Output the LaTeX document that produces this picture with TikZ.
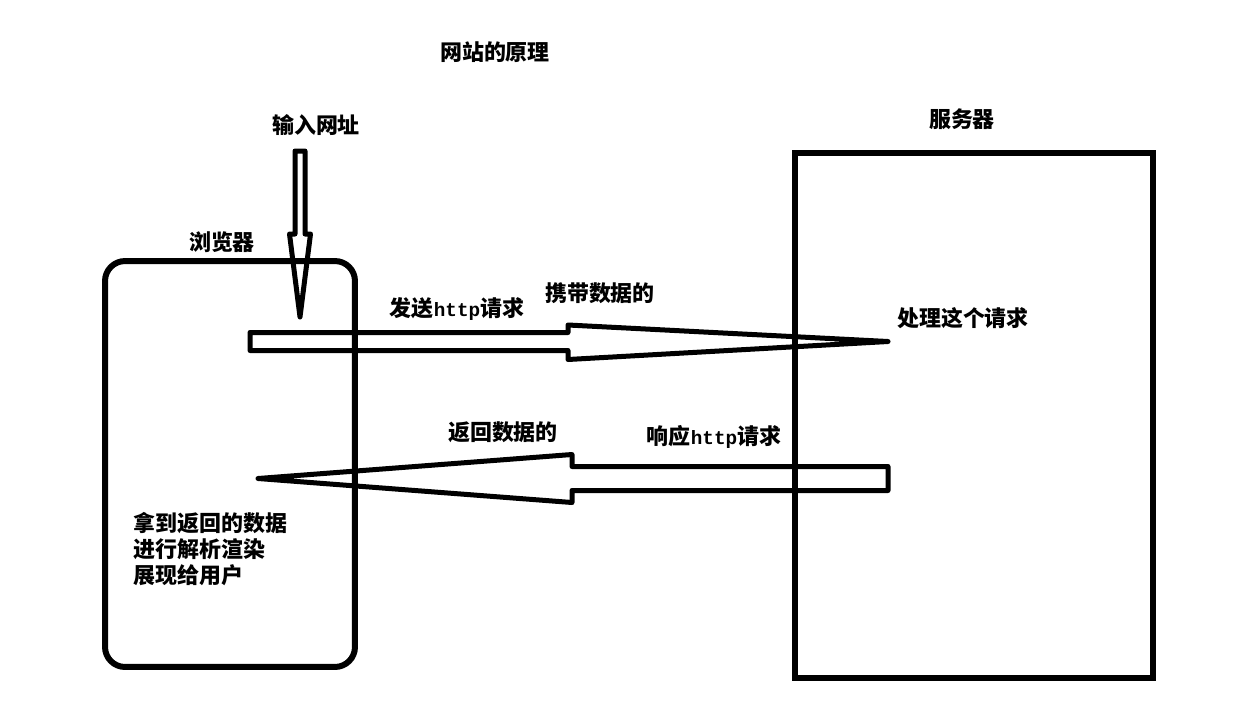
\documentclass[tikz,border=0pt]{standalone}
\usepackage{fontspec}
\setmainfont{Noto Sans CJK SC}
\newfontfamily\httpfont{Liberation Mono}
\usetikzlibrary{positioning}

\newcommand{\http}{{\httpfont\fontsize{11}{13}\selectfont\bfseries http}}

\begin{document}
\begin{tikzpicture}[
  x=0.02cm, y=-0.02cm,
  lbl/.style={font=\fontsize{12.5}{15}\selectfont\bfseries, inner sep=0pt},
  boxline/.style={draw, line width=0.12cm},
  blockarr/.style={draw, line width=0.1cm, line join=round}
]
\useasboundingbox (0,0) rectangle (1239,703);

% labels
\node[lbl] (title) at (495,52) {网站的原理};
\node[lbl] (url) at (316,125) {输入网址};
\node[lbl] (brlbl) at (222,242) {浏览器};
\node[lbl] (srvlbl) at (962,119) {服务器};

% browser and server
\node[boxline, rounded corners=0.4cm, minimum width=5cm, minimum height=8.12cm] (browser) at (230,464) {};
\node[boxline, minimum width=7.16cm, minimum height=10.5cm] (server) at (974,415.5) {};

% arrow ends
\coordinate (in-tail) at (300,151);
\coordinate (in-tip) at (300,317);
\coordinate (req-tail) at (250,341.5);
\coordinate (req-tip) at (888,341.5);
\coordinate (resp-tail) at (888,478.5);
\coordinate (resp-tip) at (258,478.5);

% input arrow
\draw[blockarr] (in-tail) ++(-5,0) -- ++(0,83) -- ++(-5.5,0) -- (in-tip)
  -- ++(10.5,-83) -- ++(-5.5,0) -- ++(0,-83) -- cycle;
% request
\draw[blockarr] (req-tail) ++(0,-9) -- ++(318,0) -- ++(0,-7.5) -- (req-tip)
  -- ++(-320,18) -- ++(0,-9) -- ++(-318,0) -- cycle;
% response
\draw[blockarr] (resp-tail) ++(0,-12) -- ++(-316,0) -- ++(0,-12) -- (resp-tip)
  -- ++(314,24) -- ++(0,-12) -- ++(316,0) -- cycle;

% arrow texts
\node[lbl] (send) at (457,309) {发送\http 请求};
\node[lbl] (carry) at (600,293) {携带数据的};
\node[lbl] (handle) at (963,318) {处理这个请求};
\node[lbl] (back) at (503,432) {返回数据的};
\node[lbl] (answer) at (714,437) {响应\http 请求};
\node[lbl, anchor=west, align=left] (render) at (133,549)
  {拿到返回的数据\\进行解析渲染\\展现给用户};
\end{tikzpicture}
\end{document}
